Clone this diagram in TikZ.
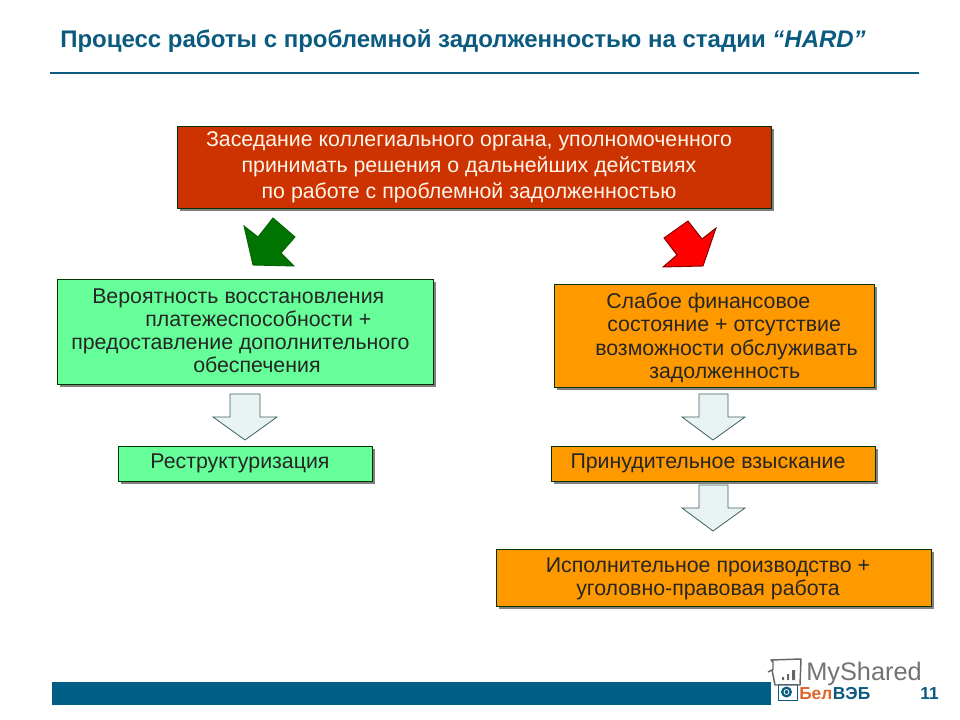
\documentclass[tikz,border=0pt]{standalone}
\usepackage{fontspec}
\setmainfont{Liberation Sans}
\begin{document}
\begin{tikzpicture}[x=0.75pt,y=-0.75pt,
  boxbase/.style={draw=black!80!green,line width=0.6pt,inner sep=0pt,outer sep=0pt},
  boxtext/.style={inner sep=0pt,font=\fontsize{16pt}{17.3pt}\selectfont,anchor=north west,align=left,text=black!85},
  blockarrow/.style={fill=arrowfill,draw=arrowline,line width=0.6pt,line join=miter},
  slanted/.style={line width=0.7pt,line join=miter}]
\definecolor{titleblue}{HTML}{0B5A80}
\definecolor{barblue}{HTML}{005F87}
\definecolor{redbox}{HTML}{CC3300}
\definecolor{greenbox}{HTML}{66FF99}
\definecolor{orangebox}{HTML}{FF9900}
\definecolor{arrowfill}{HTML}{EAF3F3}
\definecolor{arrowline}{HTML}{3F6060}
\definecolor{logoorange}{HTML}{E0652A}
\useasboundingbox (0,0) rectangle (960,720);
\fill[white] (0,0) rectangle (960,720);
% title
\node[anchor=west,inner sep=0pt,text=titleblue,font=\bfseries\fontsize{18pt}{20pt}\selectfont] (title) at (60,41) {Процесс работы с проблемной задолженностью на стадии \textit{“HARD”}};
\draw[titleblue,line width=2.2pt] (50,73) -- (919,73);
% shadows
\foreach \a/\b/\c/\d in {177/126/771/208,57/279/433/384,554/284/874/387,118/446/372/481,551/446/875/481,496/549/931/606}
  \fill[black!50] (\a+3,\b+3) rectangle (\c+3,\d+3);
% boxes
\draw[boxbase,fill=redbox] (177,126) rectangle (771,208);
\draw[boxbase,fill=greenbox] (57,279) rectangle (433,384);
\draw[boxbase,fill=orangebox] (554,284) rectangle (874,387);
\draw[boxbase,fill=greenbox] (118,446) rectangle (372,481);
\draw[boxbase,fill=orangebox] (551,446) rectangle (875,481);
\draw[boxbase,fill=orangebox] (496,549) rectangle (931,606);
% texts
\node[boxtext,anchor=north,align=center,text=white!92!orange,font=\fontsize{16pt}{19.3pt}\selectfont] (t1) at (469,131.5) {Заседание коллегиального органа, уполномоченного\\принимать решения о дальнейших действиях\\по работе с проблемной задолженностью};
\node[boxtext] (t2) at (71,288.5) {\hspace*{15.75pt}Вероятность восстановления\\\hspace*{55.5pt}платежеспособности +\\предоставление дополнительного\\\hspace*{91.5pt}обеспечения};
\node[boxtext] (t3) at (595,293) {\hspace*{8.25pt}Слабое финансовое\\\hspace*{9pt}состояние + отсутствие\\возможности обслуживать\\\hspace*{40.5pt}задолженность};
\node[boxtext,anchor=center] (t4) at (240,463) {Реструктуризация};
\node[boxtext,anchor=center] (t5) at (708,463) {Принудительное взыскание};
\node[boxtext,anchor=north,align=center] (t6) at (708,557.5) {Исполнительное производство +\\уголовно-правовая работа};
% slanted arrows
\draw[slanted,fill=green!45!black,draw=black!60!green] (244,226)--(258,237)--(273,218)--(295,237)--(281,253)--(294,266)--(253,265)--cycle;
\draw[slanted,fill=red,draw=black!50!red] (716,228)--(702,239)--(688,221)--(664,238)--(677,255)--(663,267)--(703,266)--cycle;
% block arrows
\draw[blockarrow] (230,394)--(260,394)--(260,417)--(277,417)--(245,440)--(213,417)--(230,417)--cycle;
\draw[blockarrow] (699,394)--(728,394)--(728,417)--(745,417)--(713,440)--(682,417)--(699,417)--cycle;
\draw[blockarrow] (699,485)--(728,485)--(728,508)--(745,508)--(713,531)--(682,508)--(699,508)--cycle;
% footer
\fill[barblue] (52,682) rectangle (771,705);
\node[anchor=west,inner sep=0pt,text=logoorange,font=\bfseries\fontsize{13pt}{15pt}\selectfont] (bel) at (799,694) {Бел};
\node[anchor=west,inner sep=0pt,text=titleblue,font=\bfseries\fontsize{13pt}{15pt}\selectfont] (veb) at (bel.east) {ВЭБ};
\draw[titleblue,line width=0.4pt] (778,684) rectangle (797,700);
\fill[titleblue] (786.5,692) circle (5.5);
\draw[white,line width=0.6pt] (786.5,692) circle (2.5);
\node[anchor=east,inner sep=0pt,text=titleblue,font=\bfseries\fontsize{13pt}{15pt}\selectfont] (page) at (939,694) {11};
% watermark
\node[anchor=west,inner sep=0pt,text=black!55,font=\fontsize{19pt}{23pt}\selectfont] (ms) at (806,674) {MyShared};
\draw[black!60,line width=1.1pt,line join=round] (773,670)--(773,662)--(771,660)--(801,659)--(800,685)--(775,685)--(772,670)--(768,672);
\fill[black!60] (782,677) rectangle (784,680) (787,674) rectangle (789,680) (792,670) rectangle (795,680);
\end{tikzpicture}
\end{document}
